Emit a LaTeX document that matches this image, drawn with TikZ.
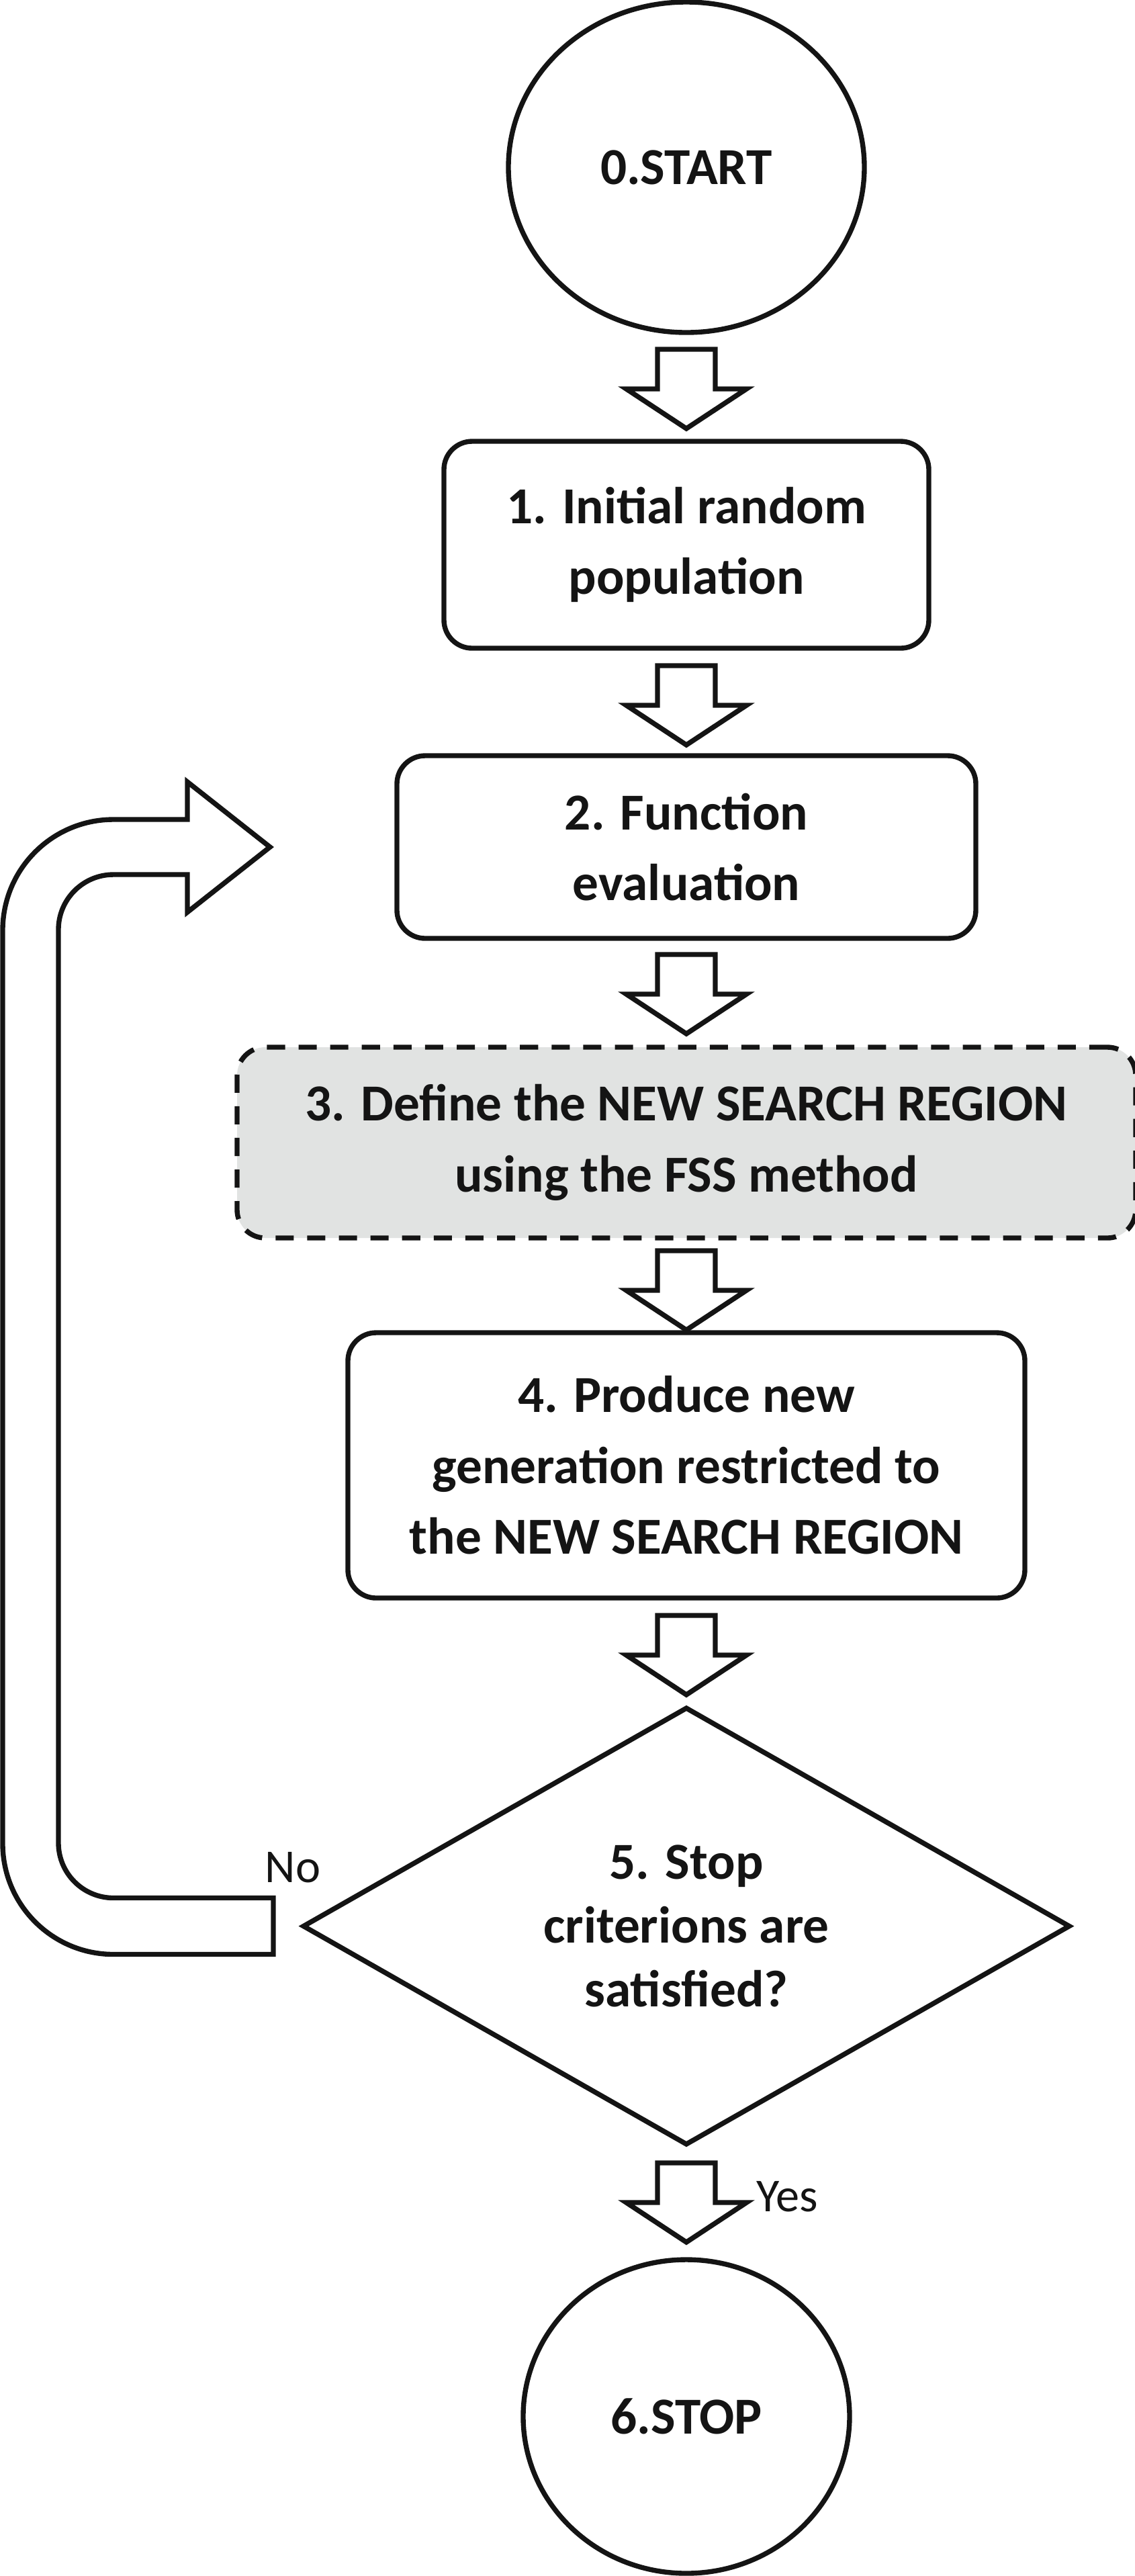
\documentclass[tikz,border=0pt]{standalone}
\usepackage{fontspec}
\setmainfont{Carlito}
\usepackage{tikz}
\usetikzlibrary{positioning,shapes,calc}
\definecolor{regiongray}{RGB}{225,227,226}
\definecolor{inkblack}{RGB}{20,20,20}

\begin{document}
\begin{tikzpicture}[line width=2.1pt, color=inkblack,
    every node/.style={outer sep=0pt, text=inkblack},
    terminal/.style={ellipse, draw, inner sep=0pt, font=\fontsize{22}{30}\selectfont\bfseries},
    stepbox/.style={rectangle, draw, rounded corners=0.42cm, align=center, inner sep=0.1cm, font=\fontsize{22}{30}\selectfont\bfseries},
    regionbox/.style={stepbox, fill=regiongray, dash pattern=on 7.7pt off 5.7pt},
    decision/.style={diamond, aspect=1.75, draw, align=center, inner sep=0pt, font=\fontsize{22}{27}\selectfont\bfseries},
    answer/.style={font=\fontsize{20}{24}\selectfont},
    loopline/.style={fill=white},
    blockdown/.pic={\draw[fill=white] (-0.43,0) -- ++(0,-0.59) -- ++(-0.465,0) -- ++(0.895,-0.59) -- ++(0.895,0.59) -- ++(-0.465,0) -- ++(0,0.59) -- cycle;}]
    \useasboundingbox (0,0) rectangle (16.9,-38.35);

    % Step 0: start
    \node[terminal, minimum width=5.30cm, minimum height=4.92cm] (start) at (10.22,-2.49) {0.START};
    \pic at ([yshift=-0.25cm]start.south) {blockdown};

    % Step 1: initial population
    \node[stepbox, minimum width=7.22cm, minimum height=3.08cm, below=1.62cm of start] (init) {1. Initial random\\population};
    \pic at ([yshift=-0.26cm]init.south) {blockdown};

    % Step 2: function evaluation
    \node[stepbox, minimum width=8.62cm, minimum height=2.72cm, below=1.60cm of init] (feval) {2. Function\\evaluation};
    \pic at ([yshift=-0.24cm]feval.south) {blockdown};

    % Step 3: new search region (FSS)
    \node[regionbox, minimum width=13.38cm, minimum height=2.84cm, below=1.62cm of feval] (region) {3. Define the NEW SEARCH REGION\\using the FSS method};
    \pic at ([yshift=-0.19cm]region.south) {blockdown};

    % Step 4: new generation
    \node[stepbox, minimum width=10.08cm, minimum height=3.95cm, below=1.41cm of region] (newgen) {4. Produce new\\generation restricted to\\the NEW SEARCH REGION};
    \pic at ([yshift=-0.26cm]newgen.south) {blockdown};

    % Step 5: stop criterion
    \node[decision, minimum width=11.40cm, minimum height=6.49cm, below=1.64cm of newgen] (crit) {5. Stop\\criterions are\\satisfied?};
    \pic at ([yshift=-0.28cm]crit.south) {blockdown};

    % Step 6: stop
    \node[terminal, minimum width=4.86cm, minimum height=4.67cm, below=1.72cm of crit] (stop) {6.STOP};

    % Labels Yes / No
    \coordinate (tail) at ([xshift=-0.45cm]crit.west);
    \coordinate (tip) at ([xshift=-1.89cm]feval.west);
    \node[answer] (no) at ([xshift=0.29cm,yshift=0.87cm]tail) {No};
    \node[answer, anchor=west] (yes) at ([xshift=0.93cm,yshift=-0.78cm]crit.south) {Yes};

    % Loop arrow back to the evaluation
    \draw[loopline] let \p1=(tail), \p2=(tip) in
    (\x1,\y1-0.42cm) -- (1.69cm,\y1-0.42cm) arc[start angle=270, end angle=180, radius=1.65cm]
    -- (0.04cm,\y2-1.24cm) arc[start angle=180, end angle=90, radius=1.65cm]
    -- (\x2-1.23cm,\y2+0.41cm) -- (\x2-1.23cm,\y2+0.97cm) -- (\p2)
    -- (\x2-1.23cm,\y2-0.97cm) -- (\x2-1.23cm,\y2-0.41cm)
    -- (1.69cm,\y2-0.41cm) arc[start angle=90, end angle=180, radius=0.82cm]
    -- (0.87cm,\y1+1.24cm) arc[start angle=180, end angle=270, radius=0.82cm]
    -- (\x1,\y1+0.42cm) -- cycle;
\end{tikzpicture}
\end{document}
